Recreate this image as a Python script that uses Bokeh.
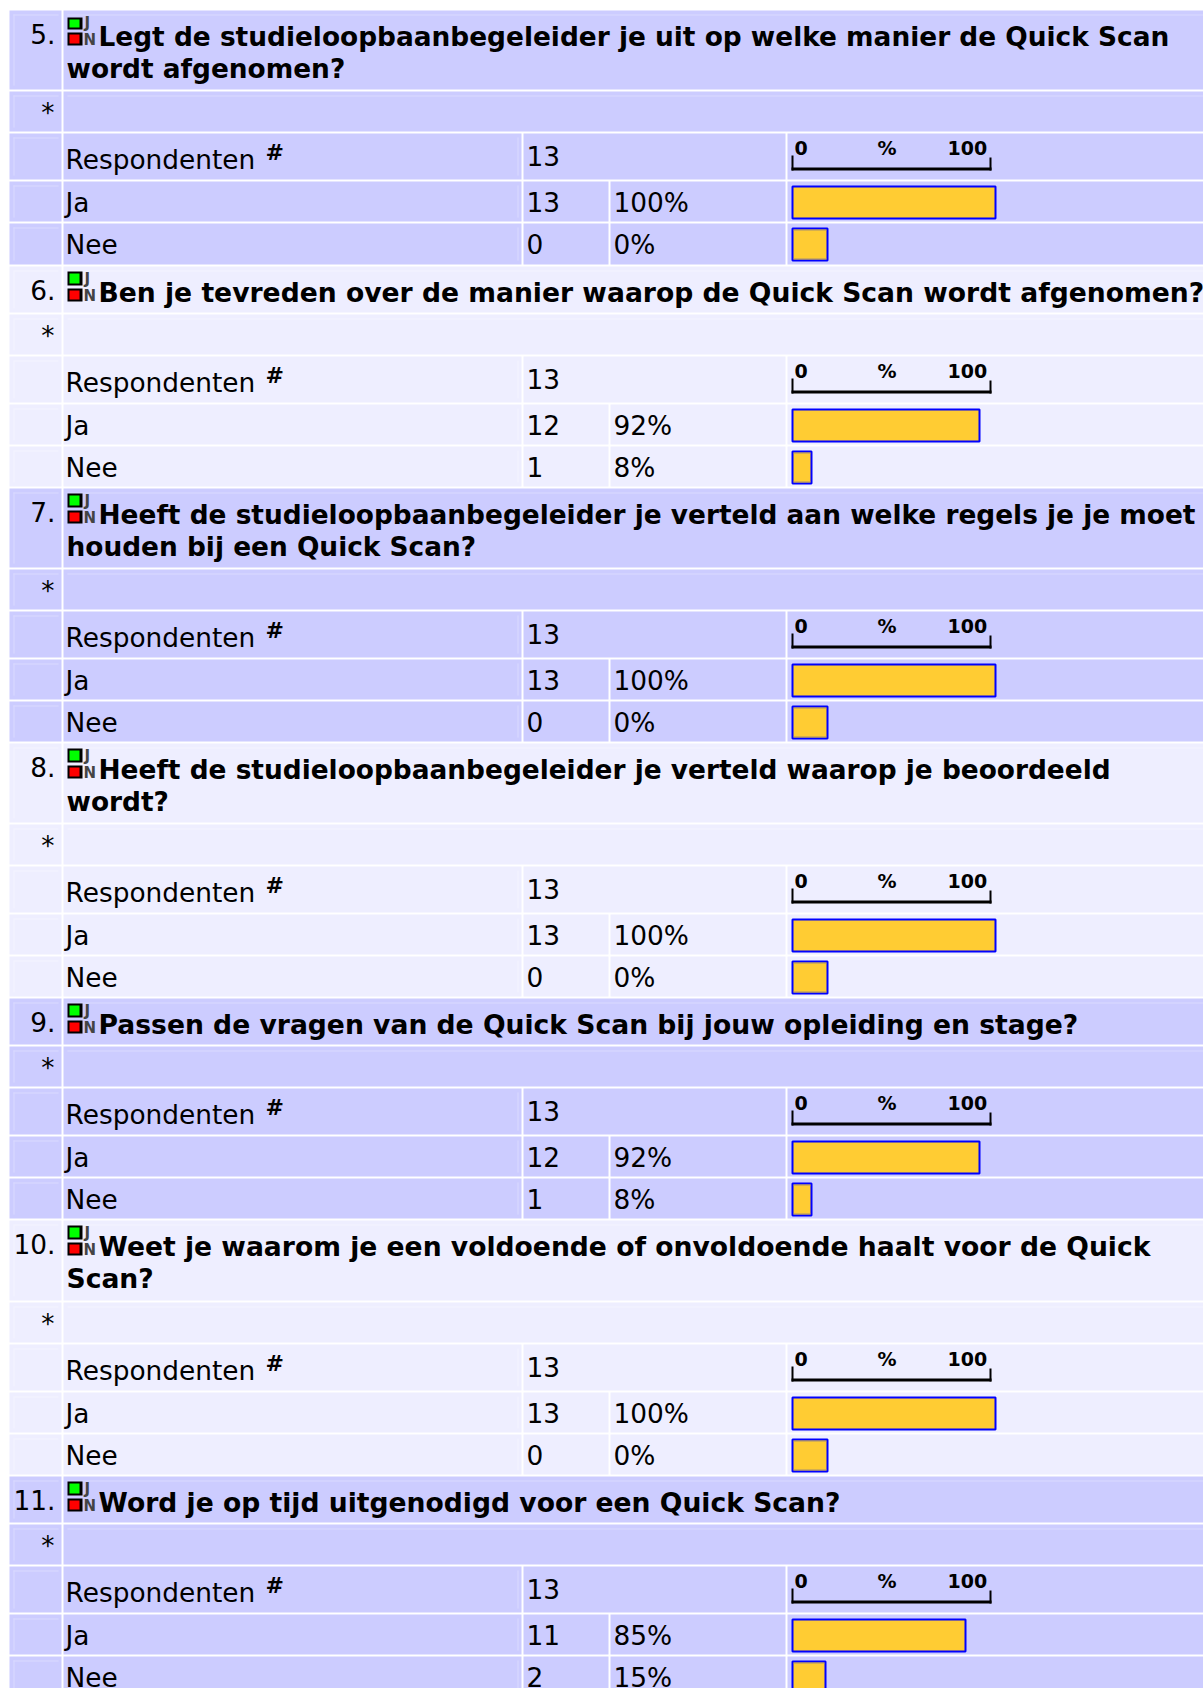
from bokeh.plotting import figure
from bokeh.models import Range1d
from bokeh.core.properties import value
from bokeh.embed import file_html
from bokeh.resources import INLINE

# ---- data ----
question_numbers = ["5.", "6.", "7.", "8.", "9.", "10.", "11."]
question_titles = [
    ["Legt de studieloopbaanbegeleider je uit op welke manier de Quick Scan", "wordt afgenomen?"],
    ["Ben je tevreden over de manier waarop de Quick Scan wordt afgenomen?"],
    ["Heeft de studieloopbaanbegeleider je verteld aan welke regels je je moet", "houden bij een Quick Scan?"],
    ["Heeft de studieloopbaanbegeleider je verteld waarop je beoordeeld", "wordt?"],
    ["Passen de vragen van de Quick Scan bij jouw opleiding en stage?"],
    ["Weet je waarom je een voldoende of onvoldoende haalt voor de Quick", "Scan?"],
    ["Word je op tijd uitgenodigd voor een Quick Scan?"],
]
respondents = [13, 13, 13, 13, 13, 13, 13]
ja_counts = [13, 12, 13, 13, 12, 13, 11]
ja_percent = [100, 92, 100, 100, 92, 100, 85]
nee_counts = [0, 1, 0, 0, 1, 0, 2]
nee_percent = [0, 8, 0, 0, 8, 0, 15]
scale_labels = ["0", "%", "100"]
row_labels = ["Respondenten", "Ja", "Nee"]

# ---- styling / layout ----
BANDS = ["#CCCCFF", "#EEEEFF"]
FAINT = {"#CCCCFF": "#D9D9FF", "#EEEEFF": "#F4F4FF"}
FONT = "DejaVu Sans"
SZ = "26.4px"
GAP = 2
LEFT, C1, C2, C3, C4, C5, RIGHT = 9, 61, 63, 521, 608, 785, 1203
C3L, C4L, C5L = 523, 610, 787
BAR_X = 791
H_TITLE2, H_TITLE1, H_STAR, H_RESP, H_JA, H_NEE = 79, 46, 40, 46, 40, 40.25
DY_MAIN, DY_SCALE, DY_ICON = -10, -8, -6

p = figure(width=1203, height=1688, output_backend="svg", toolbar_location=None,
           x_range=Range1d(0, 1203), y_range=Range1d(1688, 0),
           min_border=0, outline_line_color=None, background_fill_color="white")
p.axis.visible = False
p.grid.visible = False


def rects(l, r, t, b, color):
    p.quad(left=l, right=r, top=t, bottom=b, fill_color=color, line_color=None)


def texts(d, dy, size=SZ, style="normal", color="#000000", align="left", font=FONT):
    p.text(x=d["x"], y=[v + dy for v in d["y"]], text=d["s"], text_font=value(font),
           text_font_size=value(size), text_font_style=value(style), text_color=color,
           text_align=value(align), text_baseline=value("alphabetic"))


def bar_width(pct):
    # bars grow 2px per percent plus border; an empty result keeps a fixed default size
    return pct * 2 + 5 if pct > 0 else 37


def box():
    return dict(l=[], r=[], t=[], b=[], c=[])


def add(d, l, r, t, b, c=None):
    d["l"].append(l); d["r"].append(r); d["t"].append(t); d["b"].append(b); d["c"].append(c)


def txt():
    return dict(x=[], y=[], s=[])


def put(d, x, y, s):
    d["x"].append(x); d["y"].append(y); d["s"].append(s)


cell, faint, black, bars, shade, sq_green, sq_red = box(), box(), box(), box(), box(), box(), box()
T_reg, T_num, T_bold, T_bold_narrow, T_scale, T_hash, T_icon = txt(), txt(), txt(), txt(), txt(), txt(), txt()

y = 10.0
for i, num in enumerate(question_numbers):
    band = BANDS[i % 2]
    lines = question_titles[i]
    h_title = H_TITLE2 if len(lines) == 2 else H_TITLE1
    top = round(y + 0.25)
    t_star = round(y + h_title + GAP + 0.25)
    t_resp = round(y + h_title + GAP + H_STAR + GAP + 0.25)
    t_ja = round(y + h_title + GAP + H_STAR + GAP + H_RESP + GAP + 0.25)
    t_nee = round(y + h_title + GAP + H_STAR + GAP + H_RESP + GAP + H_JA + GAP + 0.25)
    b_title, b_star, b_resp, b_ja = t_star - GAP, t_resp - GAP, t_ja - GAP, t_nee - GAP
    b_nee = round(y + h_title + GAP + H_STAR + GAP + H_RESP + GAP + H_JA + GAP + H_NEE + 0.25)

    # cells
    for (a, b_) in [(top, b_title), (t_star, b_star), (t_resp, b_resp), (t_ja, b_ja), (t_nee, b_nee)]:
        add(cell, LEFT, C1, a, b_, band)
        add(faint, LEFT + 4, LEFT + 5, a + 4, b_ - 4, FAINT[band])
        add(faint, LEFT + 4, C1 - 3, a + 4, a + 5, FAINT[band])
    add(cell, C2, RIGHT, top, b_title, band)
    add(cell, C2, RIGHT, t_star, b_star, band)
    add(faint, C2 + 4, RIGHT, top + 4, top + 5, FAINT[band])
    add(faint, C2 + 4, RIGHT, t_star + 4, t_star + 5, FAINT[band])
    add(cell, C2, C3, t_resp, b_resp, band)
    add(cell, C3L, C5, t_resp, b_resp, band)
    add(cell, C5L, RIGHT, t_resp, b_resp, band)
    for (a, b_) in [(t_ja, b_ja), (t_nee, b_nee)]:
        add(cell, C2, C3, a, b_, band)
        add(cell, C3L, C4, a, b_, band)
        add(cell, C4L, C5, a, b_, band)
        add(cell, C5L, RIGHT, a, b_, band)
    for (a, b_) in [(t_resp, b_resp), (t_ja, b_ja), (t_nee, b_nee)]:
        add(faint, C3 - 4, C3 - 3, a + 4, b_ - 4, FAINT[band])

    # number and title (the long word renders a little narrower in the reference)
    put(T_num, 55, top + 33, num)
    target = T_bold_narrow if "studieloopbaanbegeleider" in lines[0] else T_bold
    put(target, 98, top + 36, lines[0])
    if len(lines) == 2:
        put(target, 66, top + 68, lines[1])

    # J / N icon
    g_top = top + (7 if i == 0 else 5)
    add(black, 67, 82, g_top, top + 19)
    add(black, 67, 82, top + 22, top + 35)
    add(sq_green, 69, 79, g_top + 2, top + 17)
    add(sq_red, 69, 79, top + 24, top + 33)
    put(T_icon, 84, top + 18, "J")
    put(T_icon, 83, top + 35, "N")

    # asterisk
    put(T_num, 54, t_star + 31, "*")

    # respondents row
    put(T_reg, 65, t_resp + 36, row_labels[0])
    put(T_reg, 526, t_resp + 32, str(respondents[i]))
    put(T_hash, 265, t_resp + 27, "#")

    # ja / nee
    for a, lab, cnt, pct in [(t_ja, row_labels[1], ja_counts[i], ja_percent[i]),
                             (t_nee, row_labels[2], nee_counts[i], nee_percent[i])]:
        put(T_reg, 65, a + 30.5, lab)
        put(T_reg, 526, a + 30.5, str(cnt))
        put(T_reg, 613, a + 30.5, f"{pct}%")
        w = bar_width(pct)
        add(bars, BAR_X + 1, BAR_X + w - 1, a + 5, a + 37)
        if pct < 20:
            add(shade, BAR_X + 2, BAR_X + w - 2, a + 6, a + 7)
            add(shade, BAR_X + 2, BAR_X + w - 2, a + 35, a + 36)

    # scale above the bars
    add(black, BAR_X, BAR_X + 200, t_resp + 34, t_resp + 37)
    add(black, BAR_X, BAR_X + 2, t_resp + 22, t_resp + 37)
    add(black, BAR_X + 198, BAR_X + 200, t_resp + 24, t_resp + 37)
    put(T_scale, 794, t_resp + 22, scale_labels[0])
    put(T_scale, 877, t_resp + 22, scale_labels[1])
    put(T_scale, 947, t_resp + 22, scale_labels[2])

    y += h_title + GAP + H_STAR + GAP + H_RESP + GAP + H_JA + GAP + H_NEE + GAP

p.quad(left=cell["l"], right=cell["r"], top=cell["t"], bottom=cell["b"], fill_color=cell["c"], line_color=None)
p.quad(left=faint["l"], right=faint["r"], top=faint["t"], bottom=faint["b"], fill_color=faint["c"], line_color=None)
rects(black["l"], black["r"], black["t"], black["b"], "#000000")
rects(sq_green["l"], sq_green["r"], sq_green["t"], sq_green["b"], "#00FF00")
rects(sq_red["l"], sq_red["r"], sq_red["t"], sq_red["b"], "#FF0000")
p.quad(left=bars["l"], right=bars["r"], top=bars["t"], bottom=bars["b"], fill_color="#FFCC33",
       line_color="#0000FF", line_width=2)
rects(shade["l"], shade["r"], shade["t"], shade["b"], "#A89070")

texts(T_reg, DY_MAIN)
texts(T_num, DY_MAIN, align="right")
texts(T_bold, DY_MAIN, size="26.6px", style="bold")
texts(T_bold_narrow, DY_MAIN, size="26.4px", style="bold")
texts(T_scale, DY_SCALE, size="19px", style="bold")
texts(T_hash, DY_SCALE, size="22px", style="bold")
texts(T_icon, DY_ICON, size="15px", style="bold", color="#444444")

open("out.html", "w").write(file_html(p, INLINE))
